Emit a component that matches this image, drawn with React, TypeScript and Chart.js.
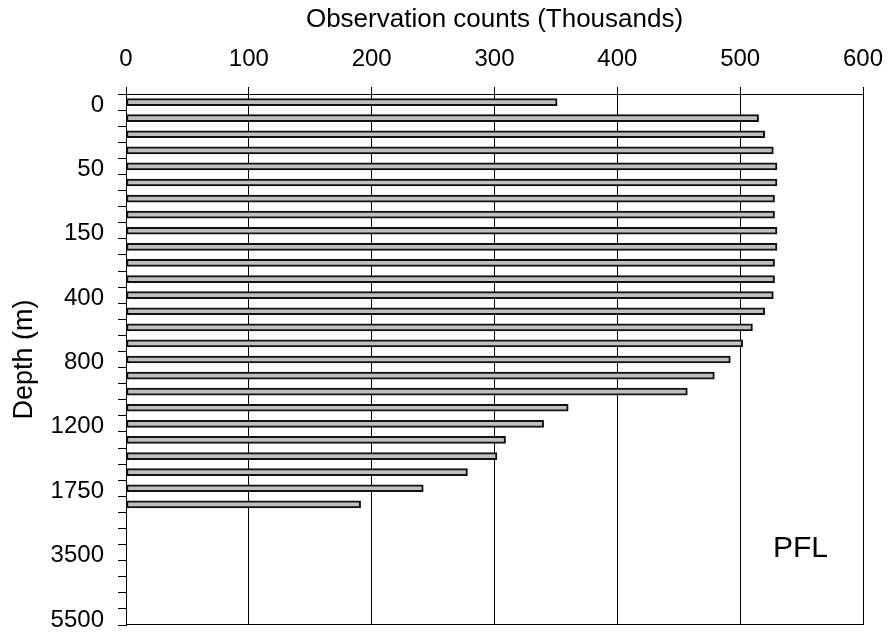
import React, { useEffect, useRef } from 'react';
import { Chart, registerables } from 'chart.js';

Chart.register(...registerables);

// Depth bands (every 4th band carries a tick label)
const depthLabels: string[] = [
  '0', '', '', '',
  '50', '', '', '',
  '150', '', '', '',
  '400', '', '', '',
  '800', '', '', '',
  '1200', '', '', '',
  '1750', '', '', '',
  '3500', '', '', '',
  '5500',
];

// Observation counts (thousands) per depth band
const counts: (number | null)[] = [
  351, 515, 520, 527,
  530, 530, 528, 528,
  530, 530, 528, 528,
  527, 520, 510, 502,
  492, 479, 457, 360,
  340, 309, 302, 278,
  242, 191, null, null,
  null, null, null, null,
  null,
];

const xMin = 0;
const xMax = 600;
const xStep = 100;

const xTitle = 'Observation counts (Thousands)';
const yTitle = 'Depth (m)';
const panelLabel = 'PFL';

const FONT = '"Liberation Sans", Arial, Helvetica, sans-serif';

export default function App() {
  const canvasRef = useRef<HTMLCanvasElement | null>(null);

  useEffect(() => {
    const canvas = canvasRef.current;
    if (!canvas) return;

    const framePlugin = {
      id: 'framePlugin',
      afterDraw(chart: any) {
        const { ctx, chartArea } = chart;
        ctx.save();
        ctx.strokeStyle = '#000';
        ctx.lineWidth = 1;
        const yb = Math.round(chartArea.bottom) - 0.5;
        ctx.beginPath();
        ctx.moveTo(chartArea.left, yb);
        ctx.lineTo(chartArea.right + 0.5, yb);
        ctx.stroke();
        ctx.fillStyle = '#000';
        ctx.font = `30px ${FONT}`;
        ctx.textAlign = 'left';
        ctx.textBaseline = 'alphabetic';
        ctx.fillText(panelLabel, chartArea.right - 90, chartArea.bottom - 68);
        ctx.restore();
      },
    };

    const noPad = (s: any) => {
      s.paddingLeft = 0;
      s.paddingRight = 0;
      s.paddingTop = 0;
      s.paddingBottom = 0;
    };

    const chart = new Chart(canvas, {
      type: 'bar',
      data: {
        labels: depthLabels,
        datasets: [
          {
            data: counts as any,
            backgroundColor: '#c0c0c0',
            borderColor: '#111111',
            borderWidth: 2,
            borderSkipped: false,
            barThickness: 7,
          },
        ],
      },
      options: {
        indexAxis: 'y',
        animation: false,
        responsive: false,
        maintainAspectRatio: false,
        devicePixelRatio: 1,
        layout: { padding: { left: 0, top: 0, right: 26, bottom: 7 } },
        plugins: {
          legend: { display: false },
          tooltip: { enabled: false },
        },
        scales: {
          x: {
            type: 'linear',
            position: 'top',
            min: xMin,
            max: xMax,
            ticks: {
              stepSize: xStep,
              color: '#000',
              font: { family: FONT, size: 24 },
              padding: 13,
            },
            grid: {
              color: '#000',
              lineWidth: 1,
              tickLength: 7,
              drawTicks: true,
            },
            border: { color: '#000', width: 1 },
            title: {
              display: true,
              text: xTitle,
              color: '#000',
              font: { family: FONT, size: 26 },
              padding: { top: 4, bottom: 0 },
            },
            afterFit: (s: any) => {
              s.height = 94;
              noPad(s);
            },
          },
          y: {
            type: 'category',
            offset: true,
            grid: {
              offset: true,
              drawOnChartArea: false,
              drawTicks: true,
              tickLength: 8,
              color: '#000',
              lineWidth: 1,
            },
            ticks: {
              autoSkip: false,
              color: '#000',
              padding: 14,
              labelOffset: 3,
              font: { family: FONT, size: 24 },
            },
            border: { color: '#000', width: 1 },
            title: {
              display: true,
              text: yTitle,
              color: '#000',
              font: { family: FONT, size: 27 },
              padding: { top: 8, bottom: 0 },
            },
            afterFit: (s: any) => {
              s.width = 126;
              noPad(s);
            },
          },
        },
      } as any,
      plugins: [framePlugin],
    });

    return () => chart.destroy();
  }, []);

  return (
    <div style={{ position: 'fixed', left: 0, top: 0, width: 889, height: 632, background: '#fff' }}>
      <canvas ref={canvasRef} width={889} height={632} style={{ display: 'block', width: 889, height: 632 }} />
    </div>
  );
}
